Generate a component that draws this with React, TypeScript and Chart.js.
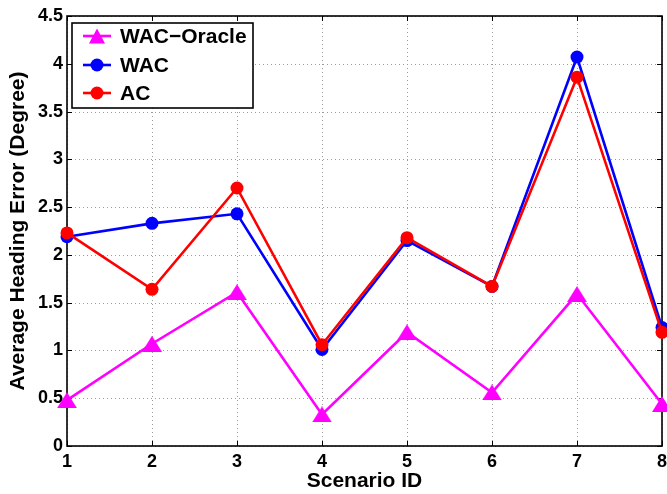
import React, { useEffect, useRef } from "react";
import { Chart, registerables } from "chart.js";

Chart.register(...registerables);

const scenarioIds = [1, 2, 3, 4, 5, 6, 7, 8];
const wacOracle = [0.48, 1.07, 1.61, 0.33, 1.19, 0.56, 1.59, 0.44];
const wac = [2.19, 2.33, 2.43, 1.01, 2.15, 1.67, 4.07, 1.24];
const ac = [2.23, 1.64, 2.7, 1.06, 2.18, 1.67, 3.86, 1.19];
const legendLabels = ["WAC\u2212Oracle", "WAC", "AC"];
const xTicks = [1, 2, 3, 4, 5, 6, 7, 8];
const yTicks = [0, 0.5, 1, 1.5, 2, 2.5, 3, 3.5, 4, 4.5];
const yTickLabels = ["0", "0.5", "1", "1.5", "2", "2.5", "3", "3.5", "4", "4.5"];

const FONT = "'Liberation Sans', Arial, Helvetica, sans-serif";

function makeTriangle(w: number, h: number, color: string) {
  const c = document.createElement("canvas");
  c.width = w;
  c.height = h;
  const g = c.getContext("2d")!;
  g.fillStyle = color;
  g.beginPath();
  g.moveTo(w / 2, 0);
  g.lineTo(w, h);
  g.lineTo(0, h);
  g.closePath();
  g.fill();
  return c;
}

const framePlugin = {
  id: "matlabFrame",
  beforeDatasetsDraw(chart: any) {
    const { ctx, chartArea } = chart;
    const { left, right, top, bottom } = chartArea;
    const xs = chart.scales.x;
    const ys = chart.scales.y;
    ctx.save();
    ctx.strokeStyle = "#9a9a9a";
    ctx.lineWidth = 1;
    ctx.setLineDash([1, 3]);
    xTicks.forEach((v) => {
      const px = Math.round(xs.getPixelForValue(v)) + 0.5;
      ctx.beginPath();
      ctx.moveTo(px, top);
      ctx.lineTo(px, bottom);
      ctx.stroke();
    });
    yTicks.forEach((v) => {
      const py = Math.round(ys.getPixelForValue(v)) + 0.5;
      ctx.beginPath();
      ctx.moveTo(left, py);
      ctx.lineTo(right, py);
      ctx.stroke();
    });
    ctx.setLineDash([]);
    ctx.strokeStyle = "#000";
    ctx.lineWidth = 1;
    const tl = 5;
    xTicks.forEach((v) => {
      const px = Math.round(xs.getPixelForValue(v)) + 0.5;
      ctx.beginPath();
      ctx.moveTo(px, bottom);
      ctx.lineTo(px, bottom - tl);
      ctx.moveTo(px, top);
      ctx.lineTo(px, top + tl);
      ctx.stroke();
    });
    yTicks.forEach((v) => {
      const py = Math.round(ys.getPixelForValue(v)) + 0.5;
      ctx.beginPath();
      ctx.moveTo(left, py);
      ctx.lineTo(left + tl, py);
      ctx.moveTo(right, py);
      ctx.lineTo(right - tl, py);
      ctx.stroke();
    });
    ctx.lineWidth = 1.6;
    ctx.strokeRect(left, top, right - left, bottom - top);
    ctx.restore();
  },
  afterDraw(chart: any) {
    const { ctx } = chart;
    const datasets = chart.data.datasets;
    const bx = 72;
    const by = 23;
    const bw = 181;
    const bh = 85;
    ctx.save();
    ctx.fillStyle = "#fff";
    ctx.fillRect(bx, by, bw, bh);
    ctx.strokeStyle = "#000";
    ctx.lineWidth = 1.6;
    ctx.strokeRect(bx, by, bw, bh);
    const rows = [36, 65, 93];
    legendLabels.forEach((label, i) => {
      const ds = datasets.find((d: any) => d.label === label);
      const y = rows[i];
      ctx.strokeStyle = ds.borderColor;
      ctx.fillStyle = ds.borderColor;
      ctx.lineWidth = 2.6;
      ctx.beginPath();
      ctx.moveTo(83, y);
      ctx.lineTo(111, y);
      ctx.stroke();
      const cx = 97;
      if (ds.isTriangle) {
        ctx.beginPath();
        ctx.moveTo(cx, y - 7.5);
        ctx.lineTo(cx + 8, y + 7.5);
        ctx.lineTo(cx - 8, y + 7.5);
        ctx.closePath();
        ctx.fill();
      } else {
        ctx.beginPath();
        ctx.arc(cx, y, ds.pointRadius, 0, Math.PI * 2);
        ctx.fill();
      }
      ctx.fillStyle = "#000";
      ctx.font = `bold 21px ${FONT}`;
      ctx.textBaseline = "middle";
      ctx.textAlign = "left";
      ctx.fillText(label, 120, y + 1);
    });
    ctx.restore();
  },
};

export default function App() {
  const ref = useRef<HTMLCanvasElement | null>(null);
  useEffect(() => {
    if (!ref.current) return;
    const mk = (vals: number[]) => scenarioIds.map((x, i) => ({ x, y: vals[i] }));
    const tri = makeTriangle(20, 16, "#ff00ff");
    const chart = new Chart(ref.current, {
      type: "line",
      data: {
        datasets: [
          {
            label: legendLabels[0],
            isTriangle: true,
            data: mk(wacOracle),
            borderColor: "#ff00ff",
            backgroundColor: "#ff00ff",
            pointBackgroundColor: "#ff00ff",
            pointBorderColor: "#ff00ff",
            pointStyle: tri,
            pointRadius: 9,
            borderWidth: 2.6,
            pointBorderWidth: 0,
            order: 2,
            clip: false,
          } as any,
          {
            label: legendLabels[1],
            data: mk(wac),
            borderColor: "#0000ff",
            backgroundColor: "#0000ff",
            pointBackgroundColor: "#0000ff",
            pointBorderColor: "#0000ff",
            pointStyle: "circle",
            pointRadius: 6.5,
            borderWidth: 2.6,
            pointBorderWidth: 0,
            order: 1,
            clip: false,
          },
          {
            label: legendLabels[2],
            data: mk(ac),
            borderColor: "#ff0000",
            backgroundColor: "#ff0000",
            pointBackgroundColor: "#ff0000",
            pointBorderColor: "#ff0000",
            pointStyle: "circle",
            pointRadius: 6.5,
            borderWidth: 2.6,
            pointBorderWidth: 0,
            order: 0,
            clip: false,
          },
        ],
      },
      options: {
        responsive: false,
        animation: false,
        events: [],
        layout: { autoPadding: false, padding: { top: 16, right: 5, left: 1, bottom: 0 } },
        plugins: { legend: { display: false }, tooltip: { enabled: false } },
        scales: {
          x: {
            type: "linear",
            min: 1,
            max: 8,
            afterFit: (s: any) => {
              s.height = 48;
              s.paddingLeft = 0;
              s.paddingRight = 0;
            },
            afterBuildTicks: (s: any) => {
              s.ticks = xTicks.map((v) => ({ value: v }));
            },
            grid: { display: false, drawTicks: false },
            border: { display: false },
            ticks: {
              font: { family: FONT, size: 18, weight: "bold" },
              color: "#000",
              padding: 5,
              maxRotation: 0,
              callback: (v: any) => String(v),
            },
            title: {
              display: true,
              text: "Scenario ID",
              color: "#000",
              font: { family: FONT, size: 21, weight: "bold", lineHeight: 1.2 },
              padding: { top: 0, bottom: 0.5 },
            },
          },
          y: {
            type: "linear",
            min: 0,
            max: 4.5,
            afterFit: (s: any) => {
              s.width = 66;
              s.paddingTop = 0;
              s.paddingBottom = 0;
            },
            afterBuildTicks: (s: any) => {
              s.ticks = yTicks.map((v) => ({ value: v }));
            },
            grid: { display: false, drawTicks: false },
            border: { display: false },
            ticks: {
              font: { family: FONT, size: 18, weight: "bold" },
              color: "#000",
              padding: 4,
              callback: (v: any) => {
                const i = yTicks.indexOf(Number(v));
                return i >= 0 ? yTickLabels[i] : String(v);
              },
            },
            title: {
              display: true,
              text: "Average Heading Error (Degree)",
              color: "#000",
              font: { family: FONT, size: 21, weight: "bold", lineHeight: 1.2 },
              padding: { top: 4.4, bottom: 0 },
            },
          },
        },
      },
      plugins: [framePlugin],
    });
    return () => chart.destroy();
  }, []);
  return (
    <div style={{ position: "absolute", left: 0, top: 0, width: 667, height: 494, background: "#fff" }}>
      <canvas ref={ref} width={667} height={494} />
    </div>
  );
}
